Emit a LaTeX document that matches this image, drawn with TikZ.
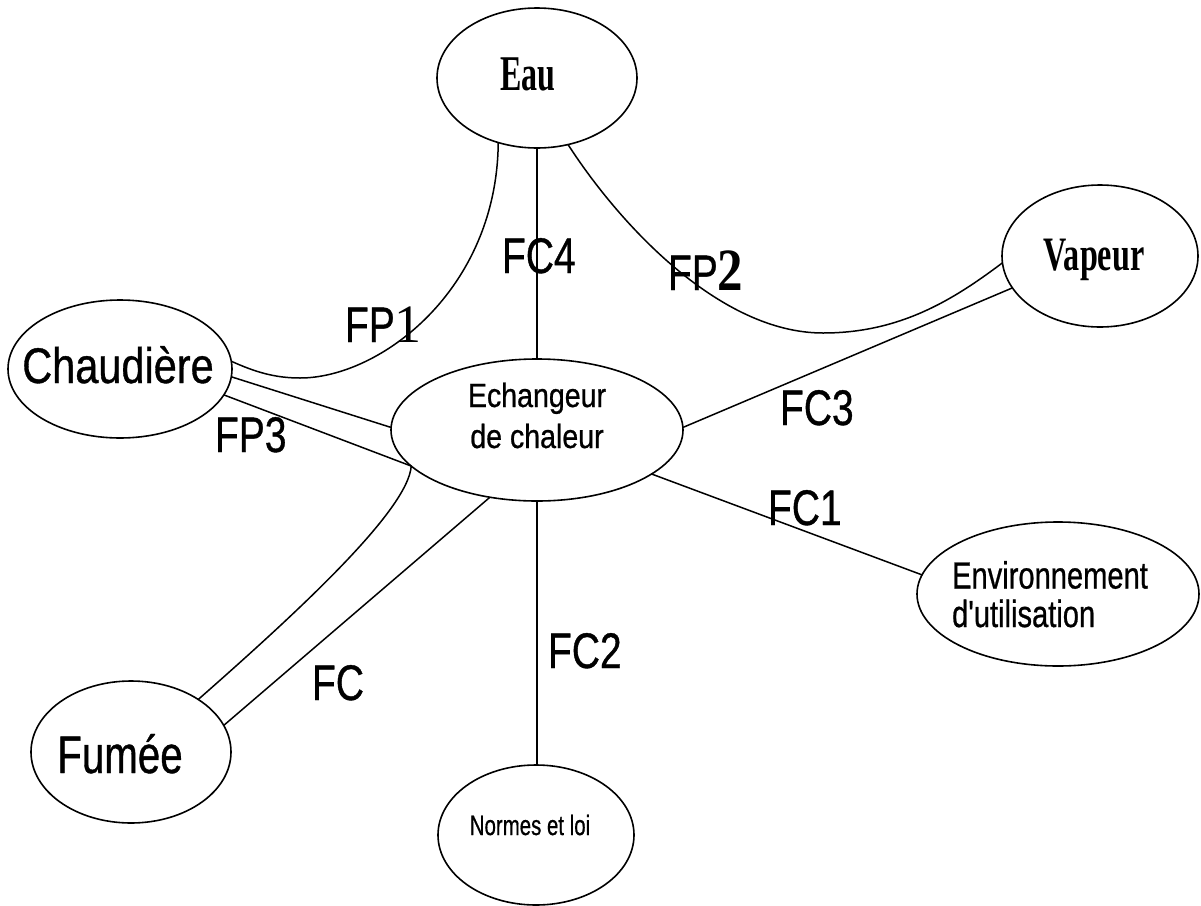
\documentclass[tikz,border=0pt]{standalone}
\usepackage{fontspec}
\usepackage{graphicx}
\setmainfont{Liberation Sans}[FakeBold=0.8]
\newfontfamily\timesfont{Liberation Serif}
\usetikzlibrary{shapes.geometric}

% text placed inside a bubble: #1 horizontal shift, #2 vertical shift,
% #3 horizontal squeeze, #4 the text; it takes no room of its own
\newcommand{\inbox}[4]{\makebox[0pt]{\raisebox{#2}[0pt][0pt]{\hspace*{#1}\scalebox{#3}[1]{#4}\hspace*{-#1}}}}
\newcommand{\sq}[2]{\scalebox{#1}[1]{#2}}

\tikzset{
  bubble/.style={draw, ellipse, line width=0.8pt, inner sep=0pt, outer sep=0pt},
  flow/.style={line width=0.75pt},
  tag/.style={anchor=base west, inner sep=0pt, outer sep=0pt, font=\fontsize{25}{30}\selectfont},
}

\begin{document}
\begin{tikzpicture}[x=0.5pt, y=-0.5pt]
\fill[white] (0,0) rectangle (1201,906);
\useasboundingbox (0,0) rectangle (1201,906);

% bubbles
\node[bubble, minimum width=100pt, minimum height=70pt] (eau) at (537,78)
  {\inbox{-4.5pt}{-6pt}{0.64}{\timesfont\bfseries\fontsize{25}{30}\selectfont Eau}};
\node[bubble, minimum width=98pt, minimum height=71pt] (vap) at (1100,256)
  {\inbox{-3pt}{-7pt}{0.67}{\timesfont\bfseries\fontsize{24}{30}\selectfont Vapeur}};
\node[bubble, minimum width=112pt, minimum height=69pt] (chaud) at (120,369)
  {\inbox{-1pt}{-7pt}{0.83}{\fontsize{25}{30}\selectfont Chaudière}};
\node[bubble, minimum width=146pt, minimum height=71pt] (ech) at (537,430)
  {\inbox{0pt}{-9pt}{0.85}{\fontsize{16.8}{20.5}\selectfont\begin{tabular}[b]{@{}c@{}}Echangeur\\de chaleur\end{tabular}}};
\node[bubble, minimum width=100pt, minimum height=71pt] (fum) at (131,752)
  {\inbox{-5.5pt}{-10.5pt}{0.76}{\fontsize{26.5}{30}\selectfont Fumée}};
\node[bubble, minimum width=98pt, minimum height=70pt] (norm) at (536,835)
  {\inbox{-3pt}{0pt}{0.73}{\fontsize{14}{16}\selectfont Normes et loi}};
\node[bubble, minimum width=141pt, minimum height=72pt] (env) at (1058,594)
  {\inbox{-4pt}{-16.5pt}{0.77}{\fontsize{18.9}{18.5}\selectfont\begin{tabular}[b]{@{}l@{}}Environnement\\d\textquotesingle utilisation\end{tabular}}};

% connectors
\draw[flow] (eau.south) -- (ech.north);
\draw[flow] (ech.south) -- (ech.south |- norm.north);
\draw[flow] (chaud.4.6) .. controls (255,372) and (275,378) .. (300,378)
  .. controls (380,378) and (497,290) .. (eau.239.2);
\draw[flow] (eau.295.9) .. controls (620,225) and (720,333) .. (823,333)
  .. controls (900,333) and (953,300) .. (vap.184.1);
\draw[flow] (ech.1) -- (vap.200);
\draw[flow] (ech.339.7) -- (env.172);
\draw[flow] (chaud.356) -- (ech.179);
\draw[flow] (chaud.346.3) -- (ech.196.9);
\draw[flow] (ech.196.9) .. controls (408,510) and (300,610) .. (fum.38);
\draw[flow] (ech.235) -- (fum.16);

% flow labels
\node[tag] (lfc4) at (502,273) {\sq{0.78}{FC4}};
\node[tag] (lfp1) at (345,342) {\sq{0.78}{FP}{\timesfont\fontsize{27}{30}\selectfont 1}};
\node[tag] (lfp2) at (668,290) {\sq{0.78}{FP}\sq{0.85}{\timesfont\bfseries\fontsize{30}{30}\selectfont 2}};
\node[tag] (lfc3) at (780,425) {\sq{0.78}{FC3}};
\node[tag] (lfc1) at (768,525) {\sq{0.78}{FC1}};
\node[tag] (lfc2) at (548,668) {\sq{0.78}{FC2}};
\node[tag] (lfc) at (312,700) {\sq{0.78}{FC}};
\node[tag] (lfp3) at (215,452) {\sq{0.78}{FP3}};
\end{tikzpicture}
\end{document}
